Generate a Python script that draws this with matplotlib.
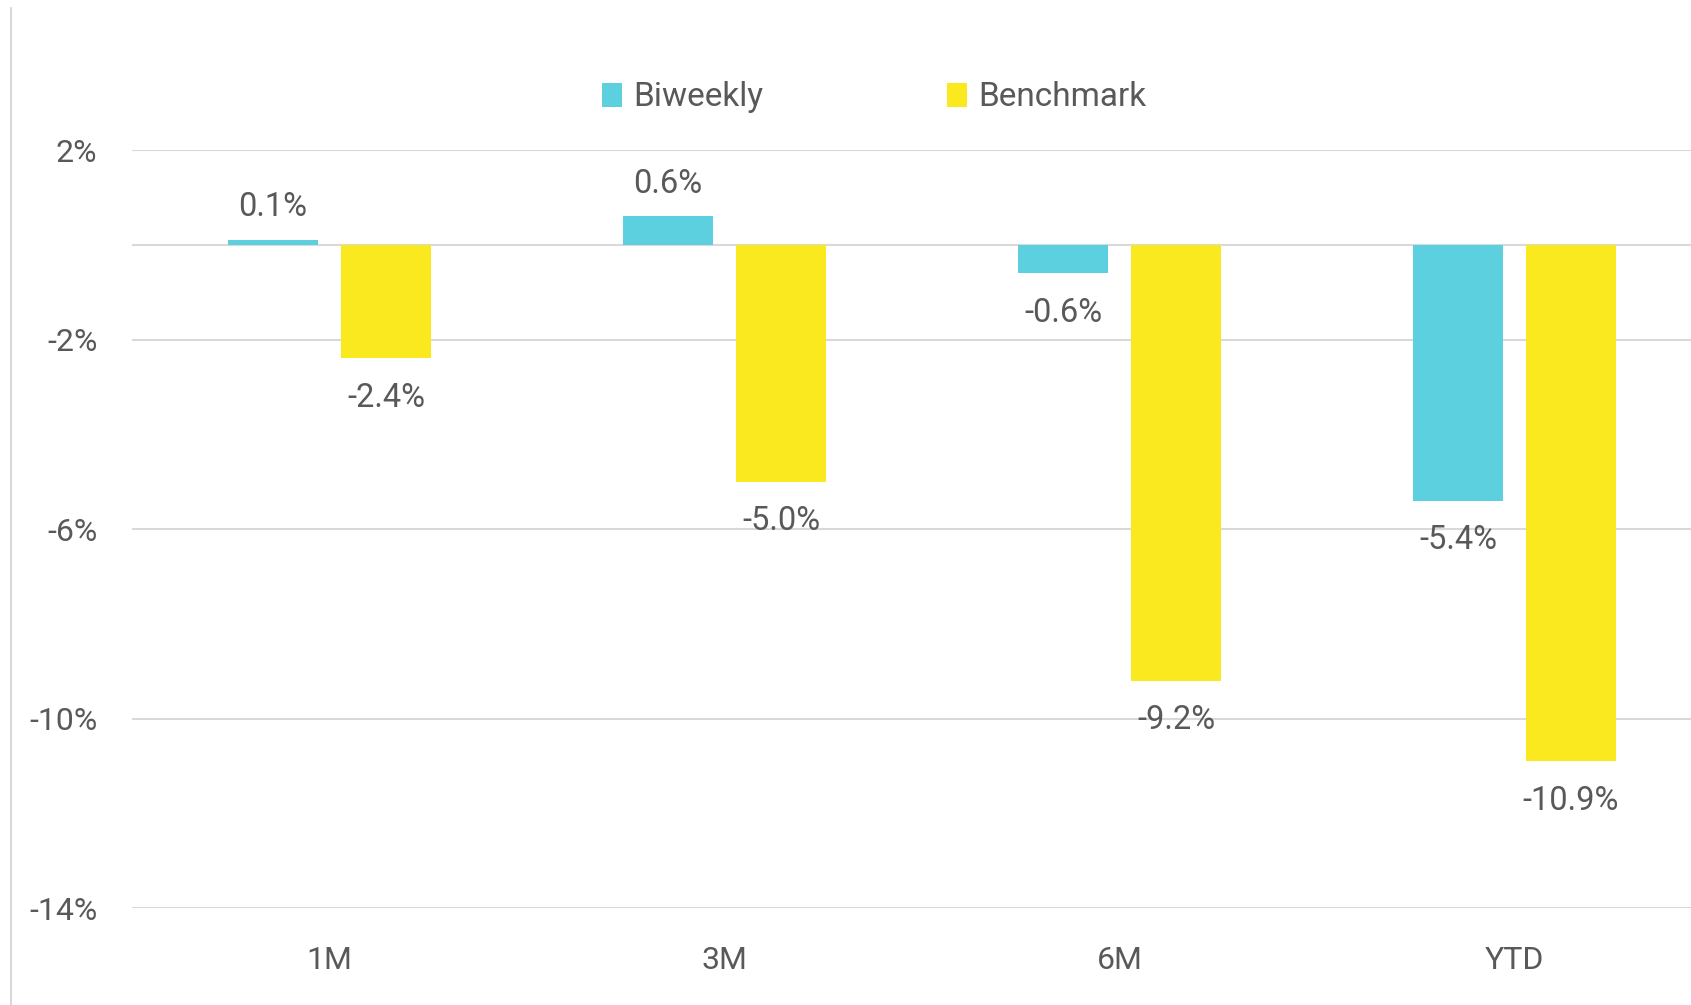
import matplotlib.pyplot as plt
from matplotlib.lines import Line2D
import numpy as np

plt.rcParams["font.family"] = ["Roboto", "DejaVu Sans"]

# data
categories = ["1M", "3M", "6M", "YTD"]
biweekly = [0.1, 0.6, -0.6, -5.4]
benchmark = [-2.4, -5.0, -9.2, -10.9]
y_ticks = [2, -2, -6, -10, -14]

CYAN = "#5DD0DF"
YELLOW = "#F9E91E"
TEXT = "#595959"
GRID = "#D9D9D9"

fig = plt.figure(figsize=(16.91, 10.05), dpi=100)
ax = fig.add_axes([0.0781, 0.0965, 0.9343, 0.7542])

x = np.arange(len(categories))
w = 0.228
off = 0.143
b1 = ax.bar(x - off, biweekly, w, color=CYAN, label="Biweekly", zorder=3)
b2 = ax.bar(x + off, benchmark, w, color=YELLOW, label="Benchmark", zorder=3)

# value labels
for bars, vals in ((b1, biweekly), (b2, benchmark)):
    for rect, v in zip(bars, vals):
        cx = rect.get_x() + rect.get_width() / 2
        dy = 12 if v >= 0 else -17
        ax.annotate(f"{v:.1f}%", (cx, v), xytext=(0, dy), textcoords="offset points",
                    ha="center", va="bottom" if v >= 0 else "top",
                    fontsize=23.5, color=TEXT)

ax.set_xlim(-0.5, len(categories) - 0.5)
ax.set_ylim(-14, 2)
ax.set_yticks(y_ticks)
ax.set_yticklabels([f"{t}%" for t in y_ticks])
ax.set_xticks(x)
ax.set_xticklabels(categories)
ax.tick_params(axis="y", length=0, pad=25, labelsize=23, labelcolor=TEXT)
ax.tick_params(axis="x", length=0, pad=27, labelsize=23, labelcolor=TEXT)

ax.grid(axis="y", color=GRID, linewidth=1.5, zorder=0)
ax.axhline(0, color=GRID, linewidth=1.5, zorder=1)
for s in ax.spines.values():
    s.set_visible(False)

# left border line of the chart frame
fig.add_artist(Line2D([11 / 1691, 11 / 1691], [0, 1 - 8 / 1005],
                      transform=fig.transFigure, color="#CFCFCF", linewidth=1.2))

fig.legend(handles=[b1, b2], loc="center", bbox_to_anchor=(0.517, 0.903),
           ncol=2, frameon=False, fontsize=24, labelcolor=TEXT,
           handlelength=0.6, handleheight=0.75, handletextpad=0.35, columnspacing=5.5)

fig.savefig("out.png", dpi=100, facecolor="white")
